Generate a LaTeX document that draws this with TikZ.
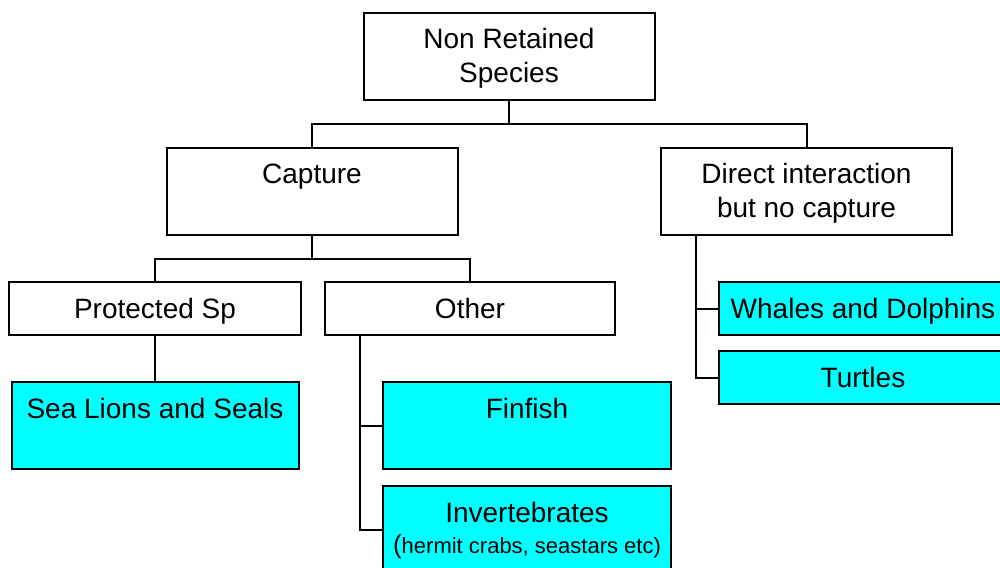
\documentclass[tikz,border=0pt]{standalone}
\usepackage{fontspec}
\setmainfont{Liberation Sans}
\definecolor{leafcyan}{RGB}{0,255,255}
\begin{document}
\begin{tikzpicture}[x=1pt,y=-1pt,
  box/.style={draw, line width=2pt, inner sep=0pt, outer sep=0pt, minimum width=291pt, minimum height=87pt, fill=white},
  shortbox/.style={box, minimum height=53pt},
  leaf/.style={fill=leafcyan},
  txt/.style={anchor=base, align=center, inner sep=0pt, font=\fontsize{28}{34}\selectfont},
  subtxt/.style={anchor=base, align=center, inner sep=0pt, font=\fontsize{22}{26}\selectfont},
  conn/.style={line width=2pt}]
\useasboundingbox (0,0) rectangle (1000,567);
% boxes
\node[box] (nrs) at (509,56.5) {};
\node[box] (cap) at (312,191) {};
\node[box] (dir) at (806.5,191) {};
\node[shortbox, minimum width=292pt] (prot) at (155,308.5) {};
\node[shortbox, minimum width=290pt] (oth) at (470,308.5) {};
\node[box, leaf, minimum width=287pt] (sea) at (155,425.5) {};
\node[box, leaf, minimum width=288pt] (fin) at (527,425.5) {};
\node[box, leaf, minimum width=288pt] (inv) at (527,529.5) {};
\node[shortbox, leaf, minimum width=288pt] (wha) at (863,308.5) {};
\node[shortbox, leaf, minimum width=288pt] (tur) at (863,377.5) {};
% texts
\node[txt] (nrst) at ([yshift=-70pt]nrs.north) {Non Retained\\Species};
\node[txt] (capt) at ([yshift=-36pt]cap.north) {Capture};
\node[txt] (dirt) at ([yshift=-70pt]dir.north) {Direct interaction\\but no capture};
\node[txt] (prott) at ([yshift=-36pt]prot.north) {Protected Sp};
\node[txt] (otht) at ([yshift=-36pt]oth.north) {Other};
\node[txt] (seat) at ([yshift=-36pt]sea.north) {Sea Lions and Seals};
\node[txt] (fint) at ([yshift=-36pt]fin.north) {Finfish};
\node[txt] (invt) at ([yshift=-36pt]inv.north) {Invertebrates};
\node[subtxt] (invs) at ([yshift=-67pt]inv.north) {{\fontsize{26}{30}\selectfont(}hermit crabs, seastars etc)};
\node[txt] (what) at ([yshift=-36pt]wha.north) {Whales and Dolphins};
\node[txt] (turt) at ([yshift=-36pt]tur.north) {Turtles};
% connectors
\draw[conn] (nrs.south) -- ++(0,24) coordinate (b1);
\draw[conn] (cap.north) |- (b1) -| (dir.north);
\draw[conn] (cap.south) -- ++(0,24) coordinate (b2);
\draw[conn] (prot.north) |- (b2) -| (oth.north);
\draw[conn] (prot.south) -- (sea.north);
\path (oth.south west) ++(35,0) coordinate (o1);
\draw[conn] (o1) |- (fin.west);
\draw[conn] (o1) |- (inv.west);
\path (dir.south west) ++(35,0) coordinate (d1);
\draw[conn] (d1) |- (wha.west);
\draw[conn] (d1) |- (tur.west);
\end{tikzpicture}
\end{document}
